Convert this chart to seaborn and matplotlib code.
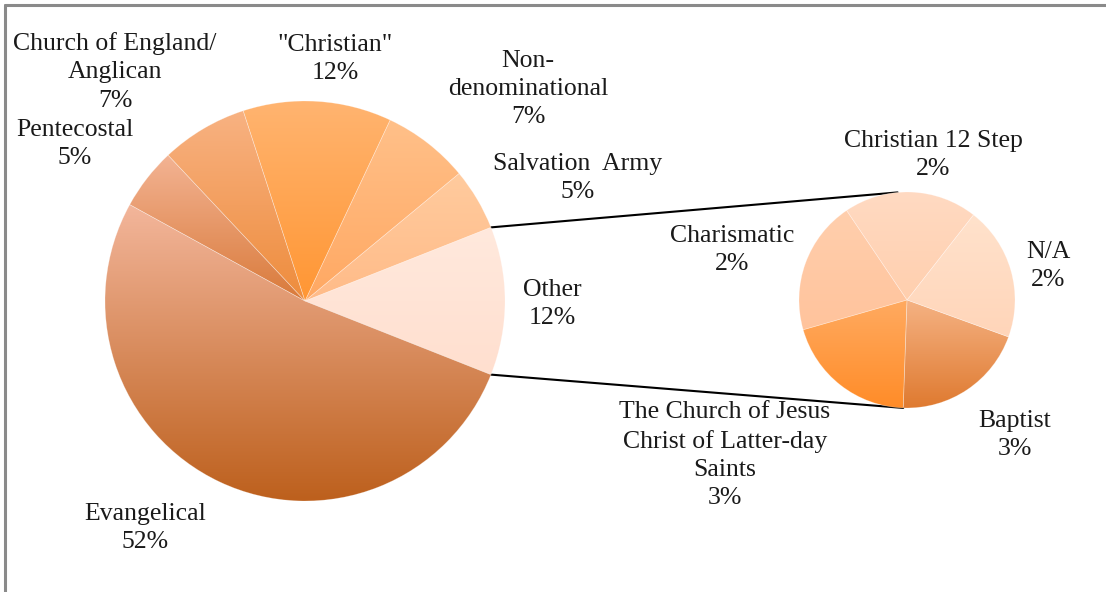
import numpy as np
import seaborn as sns
import matplotlib
import matplotlib.pyplot as plt
from matplotlib.lines import Line2D
matplotlib.use('Agg')
sns.set_theme(style="white")
plt.rcParams['font.family'] = ['Liberation Serif', 'DejaVu Serif']

# main pie (percent of respondents)
main_labels = ['Other', 'Salvation  Army', 'Non-\ndenominational', '"Christian"',
               'Church of England/\nAnglican', 'Pentecostal', 'Evangelical']
main_values = [12, 5, 7, 12, 7, 5, 52]

# breakdown of "Other" - slices drawn equal in the picture, labels rounded
other_labels = ['Christian 12 Step', 'Charismatic',
                'The Church of Jesus\nChrist of Latter-day\nSaints', 'Baptist', 'N/A']
other_values = [2.4, 2.4, 2.4, 2.4, 2.4]
other_pct = ['2%', '2%', '3%', '3%', '2%']

# (top, bottom) gradient colours for each slice
main_colors = [('#ffe9dd', '#ffdfcf'), ('#ffcb9e', '#ffbb88'), ('#ffc089', '#ffa862'),
               ('#ffb470', '#ff9633'), ('#f8b282', '#ee8c3c'), ('#f3b393', '#d97a3a'),
               ('#f3b69b', '#bd601d')]
other_colors = [('#ffdac2', '#ffcfae'), ('#ffcfad', '#ffc39c'), ('#ffaa60', '#ff8c28'),
                ('#f5b283', '#df7a30'), ('#ffe2cc', '#ffd5b9')]

# label anchor positions in pixels (layout only)
main_label_pos = [(552, 304), (578, 178), (528, 89), (335, 59), (115, 72), (75, 144), (145, 528)]
other_label_pos = [(933, 155), (732, 250), (725, 455), (1015, 435), (1048, 266)]

W, H = 1106, 592
fig = plt.figure(figsize=(W / 100, H / 100), dpi=100)
ax = fig.add_axes([0, 0, 1, 1])
ax.set_axis_off()


def gradient_fill(wedges, colors):
    for w, (c_top, c_bot) in zip(wedges, colors):
        w.set_facecolor('none')
        w.set_edgecolor((1, 1, 1, 0.3))
        w.set_linewidth(0.5)
        x0, y0, x1, y1 = w.get_path().get_extents().extents
        cmap = sns.blend_palette([c_bot, c_top], n_colors=64, as_cmap=True)
        grad = np.linspace(1, 0, 128).reshape(-1, 1)
        im = ax.imshow(grad, cmap=cmap, vmin=0, vmax=1, extent=[x0, x1, y0, y1],
                       aspect='auto', origin='upper', zorder=1, interpolation='bilinear')
        im.set_clip_path(w)
        w.set_zorder(2)


# main pie
c1, r1 = (305, H - 301), 200
w_main, _ = ax.pie(main_values, center=c1, radius=r1, startangle=-main_values[0] * 1.8,
                   counterclock=True, frame=False)
gradient_fill(w_main, main_colors)

# secondary pie
c2, r2 = (907, H - 300), 108
w_other, _ = ax.pie(other_values, center=c2, radius=r2, startangle=52,
                    counterclock=True, frame=False)
gradient_fill(w_other, other_colors)

# connector lines from "Other" slice to the secondary pie
t1, t2 = np.radians(w_main[0].theta1), np.radians(w_main[0].theta2)
top_a, bot_a = np.radians(95), np.radians(-92)
ax.add_line(Line2D([c1[0] + r1 * np.cos(t2), c2[0] + r2 * np.cos(top_a)],
                   [c1[1] + r1 * np.sin(t2), c2[1] + r2 * np.sin(top_a)], color='black', lw=1.5, zorder=0))
ax.add_line(Line2D([c1[0] + r1 * np.cos(t1), c2[0] + r2 * np.cos(bot_a)],
                   [c1[1] + r1 * np.sin(t1), c2[1] + r2 * np.sin(bot_a)], color='black', lw=1.5, zorder=0))

fs = 18.5
ls = 1.36
for lab, val, (x, y) in zip(main_labels, main_values, main_label_pos):
    ax.text(x, H - y, f'{lab}\n{val}%', ha='center', va='center', fontsize=fs,
            linespacing=ls, color='#1a1a1a', zorder=5)
for lab, pct, (x, y) in zip(other_labels, other_pct, other_label_pos):
    ax.text(x, H - y, f'{lab}\n{pct}', ha='center', va='center', fontsize=fs,
            linespacing=ls, color='#1a1a1a', zorder=5)

ax.set_xlim(0, W)
ax.set_ylim(0, H)

# grey frame at the top and left edges
fig.add_artist(Line2D([5 / W, 1], [1 - 5 / H, 1 - 5 / H], color='#8a8a8a', lw=2.2))
fig.add_artist(Line2D([5 / W, 5 / W], [0, 1 - 5 / H], color='#8a8a8a', lw=2.2))

fig.savefig('out.png', dpi=100, facecolor='white')
